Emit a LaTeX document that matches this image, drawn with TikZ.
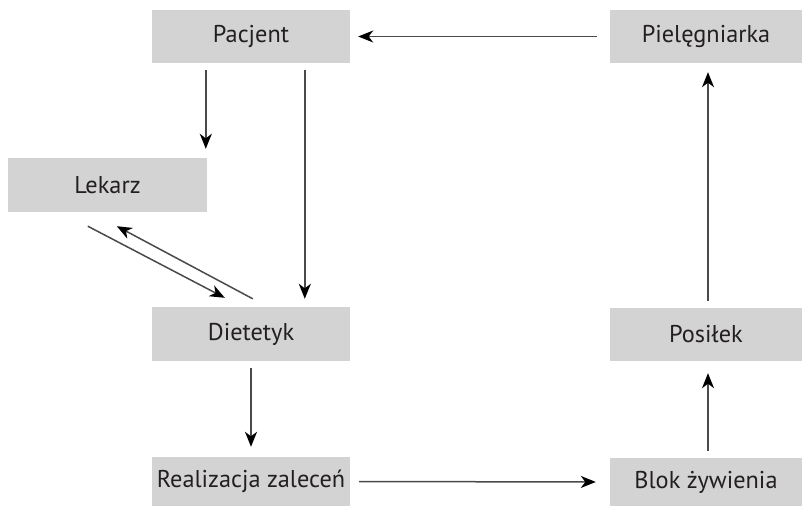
\documentclass[tikz,border=0pt]{standalone}
\usepackage{fontspec}
\setmainfont{PT Sans}
\usetikzlibrary{arrows.meta,calc}
\definecolor{boxgray}{HTML}{D3D3D3}
\definecolor{txt}{HTML}{231F20}
\definecolor{lin}{HTML}{4A4A4A}
\begin{document}
\begin{tikzpicture}[x=1pt,y=-1pt,
  box/.style={rectangle,fill=boxgray,draw=none,inner sep=0pt,text=txt,
    font=\fontsize{24.3}{28}\selectfont},
  arr/.style={draw=lin,line width=1.5pt,
    -{Stealth[length=15pt,width=12pt,inset=4.5pt,color=black]}}]
\useasboundingbox (0,0) rectangle (802,506);
\node[box,minimum width=198pt,minimum height=53pt] (pac) at (251,36.5) {Pacjent};
\node[box,minimum width=192pt,minimum height=53pt] (pie) at (706,36.5) {Pielęgniarka};
\node[box,minimum width=199pt,minimum height=54pt] (lek) at (107.5,185) {Lekarz};
\node[box,minimum width=198pt,minimum height=54pt] (die) at (251,334) {Dietetyk};
\node[box,minimum width=192pt,minimum height=53pt] (pos) at (706,334.5) {Posiłek};
\node[box,minimum width=198pt,minimum height=49pt] (rea) at (251,481.5) {Realizacja zaleceń};
\node[box,minimum width=192pt,minimum height=48pt] (blo) at (706,482) {Blok żywienia};
% top horizontal
\draw[arr,shorten <=13pt,shorten >=8pt] (pie.west) -- (pac.east);
% Pacjent -> Lekarz
\draw[arr] ($(pac.south west)+(54,7)$) -- ($(lek.north west)+(198,-9)$);
% Pacjent -> Dietetyk
\draw[arr] ($(pac.south west)+(153,7)$) -- ($(die.north west)+(153,-8)$);
% Lekarz <-> Dietetyk
\draw[arr] ($(lek.south west)+(80,14)$) -- ($(die.north west)+(73,-9)$);
\draw[arr] ($(die.north west)+(101,-8)$) -- ($(lek.south west)+(109,14)$);
% Dietetyk -> Realizacja
\draw[arr,shorten <=7pt,shorten >=10pt] (die.south) -- (rea.north);
% Realizacja -> Blok
\draw[arr,shorten <=9pt,shorten >=14pt] (rea.east) -- (blo.west);
% Blok -> Posilek
\draw[arr,shorten <=7pt,shorten >=12pt] ([xshift=2pt]blo.north) -- ([xshift=2pt]pos.south);
% Posilek -> Pielegniarka
\draw[arr,shorten <=7pt,shorten >=9pt] ([xshift=2pt]pos.north) -- ([xshift=2pt]pie.south);
\end{tikzpicture}
\end{document}
